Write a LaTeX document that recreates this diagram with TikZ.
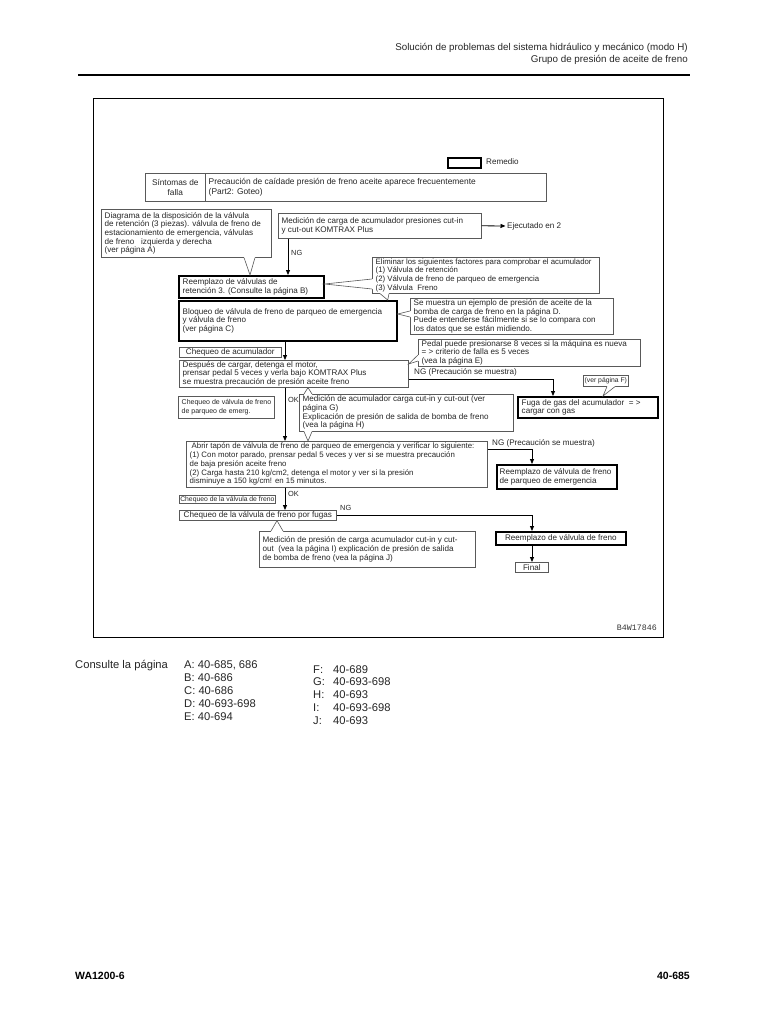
\documentclass[tikz,border=0pt]{standalone}
\usepackage{fontspec}
\setmainfont{Liberation Sans}
\newfontfamily\monof{Liberation Mono}
\usetikzlibrary{arrows.meta,calc}

\newcommand\fsz{\fontsize{8.1}{8.7}\selectfont}
\tikzset{
 tbox/.style={draw=black!65, line width=0.6pt, fill=white, anchor=north west, inner xsep=3pt, inner ysep=0pt, align=left, font=\fsz, text=black!85},
 ttext/.style={anchor=west, inner sep=0pt, align=left, font=\fsz, text=black!85, xshift=3.5pt},
 rtext/.style={xshift=1pt},
 rbox/.style={draw=black, line width=1.7pt},
 conn/.style={line width=0.8pt, draw=black},
 arr/.style={conn, -{Triangle[length=5pt,width=4pt]}},
 cal/.style={draw=black!65, line width=0.6pt},
 lbl/.style={font=\fsz, text=black!85, inner sep=0pt},
 oklbl/.style={font=\fontsize{7.4}{8}\selectfont, text=black!85, inner sep=0pt},
}
% left-aligned box: box style, text style, name, x1, y1, x2, y2, text
\newcommand\mkbox[8]{%
 \pgfmathsetmacro\bxw{#6-#4}%
 \pgfmathsetmacro\bxh{#7-#5}%
 \node[tbox,#1,minimum width=\bxw pt,minimum height=\bxh pt] (#3) at (#4,#5) {};
 \node[ttext,#2] (#3t) at (#3.west) {#8};}
% centred box
\newcommand\mkboxc[7][]{%
 \pgfmathsetmacro\bxw{#5-#3}%
 \pgfmathsetmacro\bxh{#6-#4}%
 \node[tbox,#1,minimum width=\bxw pt,minimum height=\bxh pt] (#2) at (#3,#4) {#7};}
% callout pointer: base1, tip, base2, inward vector
\newcommand\ptr[4]{%
 \fill[white] ($(#1)+(#4)$) -- (#1) -- (#2) -- (#3) -- ($(#3)+(#4)$) -- cycle;
 \draw[cal] (#1) -- (#2) -- (#3);}

\begin{document}
\begin{tikzpicture}[x=1pt,y=-1pt]
\useasboundingbox (0,0) rectangle (768,1024);
\fill[white] (0,0) rectangle (768,1024);

% header
\node[anchor=base east, font=\fontsize{9.8}{12}\selectfont, inner sep=0pt, text=black!85] (hd1) at (688,50.5) {Solución de problemas del sistema hidráulico y mecánico (modo H)};
\node[anchor=base east, font=\fontsize{9.8}{12}\selectfont, inner sep=0pt, text=black!85] (hd2) at (688,62.5) {Grupo de presión de aceite de freno};
\draw[line width=2pt] (78,75) -- (690,75);

% frame
\draw[line width=0.9pt] (93,98) rectangle (663,637);

% legend
\mkboxc[rbox]{leg}{447}{157}{480}{167}{}
\node[lbl, anchor=west] (legtxt) at (486,162) {Remedio};

% boxes
\mkboxc[align=center, font=\fontsize{8.3}{10}\selectfont]{sint1}{145}{173}{205}{201}{Síntomas de\\falla}
\mkbox{}{font=\fontsize{8.4}{10}\selectfont}{sint2}{205}{173}{546}{201}{Precaución de caídade presión de freno aceite aparece frecuentemente\\(Part2: Goteo)}
\mkbox{}{}{diag}{101}{209}{271}{257}{Diagrama de la disposición de la válvula\\de retención (3 piezas). válvula de freno de\\estacionamiento de emergencia, válvulas\\de freno \ \ izquierda y derecha\\(ver página A)}
\mkbox{}{font=\fontsize{8.1}{9}\selectfont}{med1}{278}{213}{481}{238}{Medición de carga de acumulador presiones cut-in\\y cut-out KOMTRAX Plus}
\node[lbl, anchor=west] (ejec) at (507,226) {Ejecutado en 2};
\mkbox{rbox}{rtext}{reem1}{178}{275}{323}{297}{Reemplazo de válvulas de\\retención 3. (Consulte la página B)}
\mkbox{}{font=\fontsize{7.8}{8.7}\selectfont}{elim}{372}{257}{599}{293}{Eliminar los siguientes factores para comprobar el acumulador\\(1) Válvula de retención\\(2) Válvula de freno de parqueo de emergencia\\(3) Válvula \ Freno}
\mkbox{rbox}{rtext}{bloq}{178}{300}{396}{340}{Bloqueo de válvula de freno de parqueo de emergencia\\y válvula de freno\\(ver página C)}
\mkbox{}{}{semu}{410}{298}{613}{334}{Se muestra un ejemplo de presión de aceite de la\\bomba de carga de freno en la página D.\\Puede entenderse fácilmente si se lo compara con\\los datos que se están midiendo.}
\mkboxc{cheqacu}{179}{347}{281}{357}{Chequeo de acumulador}
\mkbox{}{}{desp}{179}{360}{408}{387}{Después de cargar, detenga el motor,\\prensar pedal 5 veces y verla bajo KOMTRAX Plus\\se muestra precaución de presión aceite freno}
\mkbox{}{}{pedal}{418}{339}{640}{366}{Pedal puede presionarse 8 veces si la máquina es nueva\\= > criterio de falla es 5 veces\\(vea la página E)}
\mkboxc[inner xsep=1pt, font=\fontsize{6.8}{8}\selectfont]{fverf}{583}{375}{628}{386}{(ver página F)}
\mkbox{rbox}{rtext}{fuga}{517}{396}{657}{417}{Fuga de gas del acumulador \ = >\\cargar con gas}
\mkbox{}{font=\fontsize{7}{9}\selectfont}{cheqpq}{178}{396}{274}{418}{Chequeo de válvula de freno\\de parqueo de emerg.}
\mkbox{}{}{medacu}{299}{394}{513}{431}{Medición de acumulador carga cut-in y cut-out (ver\\página G)\\Explicación de presión de salida de bomba de freno\\(vea la página H)}
\mkbox{}{font=\fontsize{7.85}{8.7}\selectfont}{abrir}{186}{441}{487}{487}{\hspace*{2pt}Abrir tapón de válvula de freno de parqueo de emergencia y verificar lo siguiente:\\(1) Con motor parado, prensar pedal 5 veces y ver si se muestra precaución\\de baja presión aceite freno\\(2) Carga hasta 210 kg/cm2, detenga el motor y ver si la presión\\disminuye a 150 kg/cm! en 15 minutos.}
\mkbox{rbox}{}{rpq}{496}{464}{616}{488}{Reemplazo de válvula de freno\\de parqueo de emergencia}
\mkboxc[inner xsep=1pt, font=\fontsize{6.8}{8}\selectfont]{cheqvf}{179}{495}{275}{503}{Chequeo de la válvula de freno}
\mkboxc{fugas}{179}{510}{336}{520}{Chequeo de la válvula de freno por fugas}
\mkbox{}{}{medpres}{259}{531}{475}{567}{Medición de presión de carga acumulador cut-in y cut-\\out \ (vea la página I) explicación de presión de salida\\de bomba de freno (vea la página J)}
\mkboxc[rbox]{rfr}{495}{531}{625}{544}{Reemplazo de válvula de freno}
\mkboxc{final}{515}{562}{548}{572}{Final}

% callout pointers
\coordinate (p1a) at ($(diag.south west)+(143,0)$);
\coordinate (p1b) at ($(diag.south west)+(154,0)$);
\coordinate (p1t) at ($(reem1.north west)+(72,0)$);
\ptr{p1a}{p1t}{p1b}{0,-1.5}
\coordinate (p2a) at ($(elim.north west)+(0,22)$);
\coordinate (p2b) at ($(elim.north west)+(0,32)$);
\coordinate (p2t) at ($(reem1.north east)+(0,9)$);
\ptr{p2a}{p2t}{p2b}{1.5,0}
\coordinate (p3a) at ($(elim.south west)+(8,0)$);
\coordinate (p3b) at ($(elim.south west)+(17,0)$);
\coordinate (p3t) at ($(bloq.north east)+(-10,0)$);
\ptr{p3a}{p3t}{p3b}{0,-1.5}
\coordinate (p4a) at ($(semu.north west)+(0,13)$);
\coordinate (p4b) at ($(semu.north west)+(0,19)$);
\coordinate (p4t) at ($(bloq.north east)+(0,14)$);
\ptr{p4a}{p4t}{p4b}{1.5,0}
\coordinate (p5a) at ($(pedal.north west)+(0,16)$);
\coordinate (p5b) at ($(pedal.north west)+(0,22)$);
\coordinate (p5t) at ($(desp.north east)+(0,4)$);
\ptr{p5a}{p5t}{p5b}{1.5,0}
\coordinate (p6a) at ($(fverf.south west)+(24,0)$);
\coordinate (p6b) at ($(fverf.south west)+(32,0)$);
\coordinate (p6t) at ($(fuga.north west)+(86,0)$);
\ptr{p6a}{p6t}{p6b}{0,-1.5}
\coordinate (p7a) at ($(medacu.north west)+(5,0)$);
\coordinate (p7b) at ($(medacu.north west)+(13,0)$);
\coordinate (p7t) at ($(desp.south west)+(129,0)$);
\ptr{p7a}{p7t}{p7b}{0,1.5}
\coordinate (p8a) at ($(medacu.south west)+(5,0)$);
\coordinate (p8b) at ($(medacu.south west)+(13,0)$);
\coordinate (p8t) at ($(abrir.north west)+(122,0)$);
\ptr{p8a}{p8t}{p8b}{0,-1.5}
\coordinate (p9a) at ($(medpres.north west)+(12,0)$);
\coordinate (p9b) at ($(medpres.north west)+(24,0)$);
\coordinate (p9t) at ($(fugas.south west)+(98,0)$);
\ptr{p9a}{p9t}{p9b}{0,1.5}

% connectors
\coordinate (sp) at (285,0);
\coordinate (xa) at (553,0);
\coordinate (xb) at (532,0);
\draw[arr, shorten >=1.5pt] (med1.east) -- (ejec.west);
\draw[arr] ([xshift=10pt]med1.south west) -- ([xshift=10pt]med1.south west |- reem1.north);
\node[oklbl, anchor=west] (ng1) at (291,253) {NG};
\draw[arr] (bloq.south -| sp) -- (desp.north -| sp);
\draw[arr] (desp.south -| sp) -- (abrir.north -| sp);
\node[oklbl, anchor=west] (ok1) at (288,400) {OK};
\draw[arr] (abrir.south -| sp) -- (fugas.north -| sp);
\node[oklbl, anchor=west] (ok2) at (288,494) {OK};
\draw[arr] ([yshift=-5.5pt]desp.east) -| (fuga.north -| xa);
\node[lbl, anchor=west] (ngt1) at (414,372) {NG (Precaución se muestra)};
\draw[arr] ([yshift=-8pt]abrir.north east) -| (rpq.north -| xb);
\node[lbl, anchor=west] (ngt2) at (492,443) {NG (Precaución se muestra)};
\draw[arr] (fugas.east) -| (rfr.north -| xb);
\node[oklbl, anchor=west] (ng3) at (340,508) {NG};
\draw[arr] (rfr.south -| xb) -- (final.north -| xb);

\node[anchor=base east, font=\monof\fontsize{8.3}{9}\selectfont, inner sep=0pt, text=black!80] (code) at (657,630) {B4W17846};

% references
\node[anchor=base west, font=\fontsize{11.2}{13}\selectfont, inner sep=0pt, text=black!85] (cons) at (75,668) {Consulte la página};
\foreach \t [count=\i from 0] in {{A: 40-685, 686},{B: 40-686},{C: 40-686},{D: 40-693-698},{E: 40-694}}
  \node[anchor=base west, font=\fontsize{11.2}{13}\selectfont, inner sep=0pt, text=black!85] (ra\i) at (184,668+13*\i) {\t};
\foreach \l/\v [count=\i from 0] in {F:/40-689,G:/40-693-698,H:/40-693,I:/40-693-698,J:/40-693} {
  \node[anchor=base west, font=\fontsize{11.2}{13}\selectfont, inner sep=0pt, text=black!85] (rl\i) at (313,673+12.8*\i) {\l};
  \node[anchor=base west, font=\fontsize{11.2}{13}\selectfont, inner sep=0pt, text=black!85] (rv\i) at (333,673+12.8*\i) {\v};
}

% footer
\node[anchor=base west, font=\bfseries\fontsize{10.5}{12}\selectfont, inner sep=0pt] (ft1) at (75,979) {WA1200-6};
\node[anchor=base east, font=\bfseries\fontsize{10.5}{12}\selectfont, inner sep=0pt] (ft2) at (690,979) {40-685};
\end{tikzpicture}
\end{document}
